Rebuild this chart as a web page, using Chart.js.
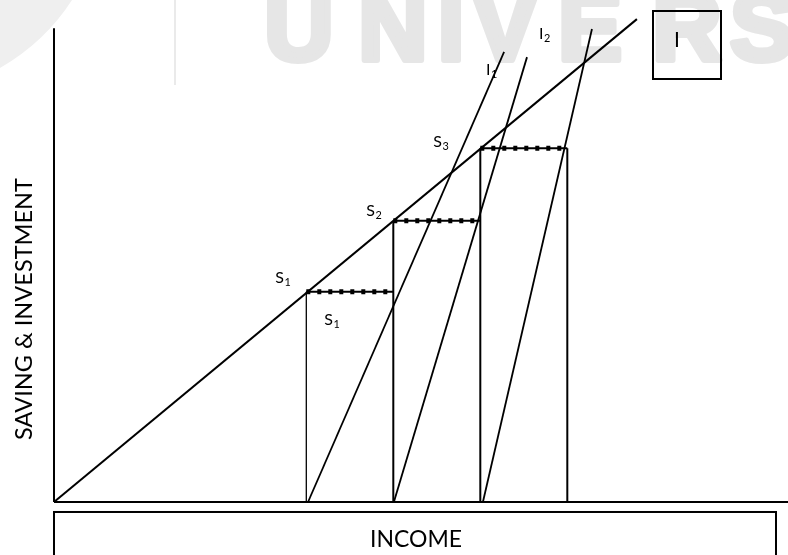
<!DOCTYPE html>
<html><head><meta charset="utf-8">
<script src="https://cdn.jsdelivr.net/npm/chart.js@4"></script>
<style>html,body{margin:0;padding:0;background:#fff}#wrap{width:788px;height:555px;position:relative}</style>
</head><body><div id="wrap"><canvas id="c"></canvas></div>
<script>
// ---- data (income on x, saving & investment on y) ----
const incomeLevels = [87, 117, 147, 177];        // Y1..Y4 (vertical income lines)
const savingLevels = [72.5, 97, 122];            // S1, S2, S3
const savingX = [0, 201];
const savingY = [0, 166.5];
const invest1X = [87.6, 155.2];
const invest1Y = [0, 155.2];
const invest2X = [117.2, 163.1];
const invest2Y = [0, 153.4];
const invest3X = [147.9, 185.5];
const invest3Y = [0, 163.1];
const axisTop = 163.4;
const axisRight = 253.1;
const xRange = [-18.62, 253.1];
const yRange = [-18.28, 173.1];
const savingLabels = ['1', '2', '3'];
const investLabels = ['1', '2'];
const xTitle = 'INCOME';
const yTitle = 'SAVING & INVESTMENT';
const boxLabel = 'I';
const watermark = ['U','N','I','V','E','R','S'];

function seg(xs, ys){ return xs.map((x,i)=>({x:x, y:ys[i]})); }
function lineDs(data, w, extra){ return Object.assign({data:data, showLine:true, borderColor:'#000', borderWidth:w, pointRadius:0, fill:false, tension:0}, extra||{}); }

const datasets = [];
datasets.push(lineDs(seg([0,0],[0,axisTop]), 2));
datasets.push(lineDs(seg([0,axisRight],[0,0]), 2));
datasets.push(lineDs(seg(savingX, savingY), 2));
datasets.push(lineDs(seg(invest1X, invest1Y), 1.8));
datasets.push(lineDs(seg(invest2X, invest2Y), 1.8));
datasets.push(lineDs(seg(invest3X, invest3Y), 1.8));
incomeLevels.forEach((x,i)=>{
  const s = savingLevels[Math.min(i, savingLevels.length-1)];
  datasets.push(lineDs(seg([x,x],[0,s]), i===0 ? 1.3 : 2));
});
savingLevels.forEach((s,i)=>{
  const pts = seg([incomeLevels[i], incomeLevels[i+1]],[s,s]);
  datasets.push(lineDs(pts, 2));
  datasets.push(lineDs(pts, 5, {borderDash:[4,7], borderCapStyle:'butt'}));
});

function fitFont(ctx, text, weight, family, target){
  ctx.font = weight + ' 100px ' + family;
  const w = ctx.measureText(text).width;
  return 100 * target / w;
}
function subText(ctx, base, sub, x, y, size){
  ctx.font = size + 'px Lato';
  ctx.fillText(base, x, y);
  const w = ctx.measureText(base).width;
  ctx.font = (size*0.68) + 'px Lato';
  ctx.fillText(sub, x + w + 0.5, y + size*0.2);
}

const deco = {
  id:'deco',
  beforeDatasetsDraw(chart){
    const ctx = chart.ctx;
    ctx.save();
    // light logo swoosh & watermark
    ctx.fillStyle = '#efefef';
    ctx.beginPath(); ctx.moveTo(0,0); ctx.lineTo(72,0); ctx.quadraticCurveTo(45,42,0,68); ctx.closePath(); ctx.fill();
    ctx.strokeStyle = '#e3e3e3'; ctx.lineWidth = 1.5;
    ctx.beginPath(); ctx.moveTo(175,0); ctx.lineTo(175,85); ctx.stroke();
    ctx.fillStyle = '#e6e6e6'; ctx.strokeStyle = '#e6e6e6';
    ctx.lineWidth = 6; ctx.lineJoin = 'round';
    ctx.font = 'bold 96px "Liberation Sans"';
    ctx.textAlign = 'center'; ctx.textBaseline = 'alphabetic';
    const centers = [299, 393, 451, 505, 590, 687, 762];
    watermark.forEach((ch,i)=>{
      ctx.fillText(ch, centers[i], 60);
      ctx.strokeText(ch, centers[i], 60);
    });
    ctx.restore();
  },
  afterDatasetsDraw(chart){
    const ctx = chart.ctx, xs = chart.scales.x, ys = chart.scales.y;
    const px = v=>xs.getPixelForValue(v), py = v=>ys.getPixelForValue(v);
    ctx.save();
    ctx.fillStyle = '#000'; ctx.strokeStyle = '#000';
    ctx.textAlign = 'left'; ctx.textBaseline = 'alphabetic';
    // saving labels
    const fs = 16;
    subText(ctx, 'S', savingLabels[0], px(incomeLevels[0]) - 31, py(savingLevels[0]) - 9, fs);
    subText(ctx, 'S', savingLabels[0], px(incomeLevels[0]) + 18, py(savingLevels[0]) + 33, fs);
    subText(ctx, 'S', savingLabels[1], px(incomeLevels[1]) - 27, py(savingLevels[1]) - 5, fs);
    subText(ctx, 'S', savingLabels[2], px(incomeLevels[2]) - 47, py(savingLevels[2]) - 1, fs);
    // investment labels near top ends
    subText(ctx, 'I', investLabels[0], px(invest1X[1]) - 18, py(invest1Y[1]) + 23, fs);
    subText(ctx, 'I', investLabels[1], px(invest2X[1]) + 12, py(invest2Y[1]) - 18, fs);
    // box I
    ctx.lineWidth = 2;
    ctx.strokeRect(653, 11, 68, 68);
    ctx.font = '21px Lato';
    ctx.fillText(boxLabel, 674, 47);
    // income box
    const left = px(0), base = py(0);
    ctx.lineWidth = 2;
    ctx.strokeRect(left, base + 10, 776 - left, 80);
    let sz = fitFont(ctx, xTitle, '', 'Lato', 92);
    ctx.font = sz + 'px Lato';
    ctx.textAlign = 'center';
    ctx.fillText(xTitle, 416, 547);
    // y title
    sz = fitFont(ctx, yTitle, '', 'Lato', 262);
    ctx.font = sz + 'px Lato';
    ctx.translate(32, 309); ctx.rotate(-Math.PI/2);
    ctx.fillText(yTitle, 0, 0);
    ctx.restore();
  }
};

new Chart(document.getElementById('c'), {
  type:'scatter',
  data:{datasets:datasets},
  options:{
    responsive:true, maintainAspectRatio:false, animation:false,
    layout:{padding:0, autoPadding:false},
    plugins:{legend:{display:false}, tooltip:{enabled:false}},
    scales:{
      x:{type:'linear', display:false, min:xRange[0], max:xRange[1]},
      y:{type:'linear', display:false, min:yRange[0], max:yRange[1]}
    }
  },
  plugins:[deco]
});
</script></body></html>
